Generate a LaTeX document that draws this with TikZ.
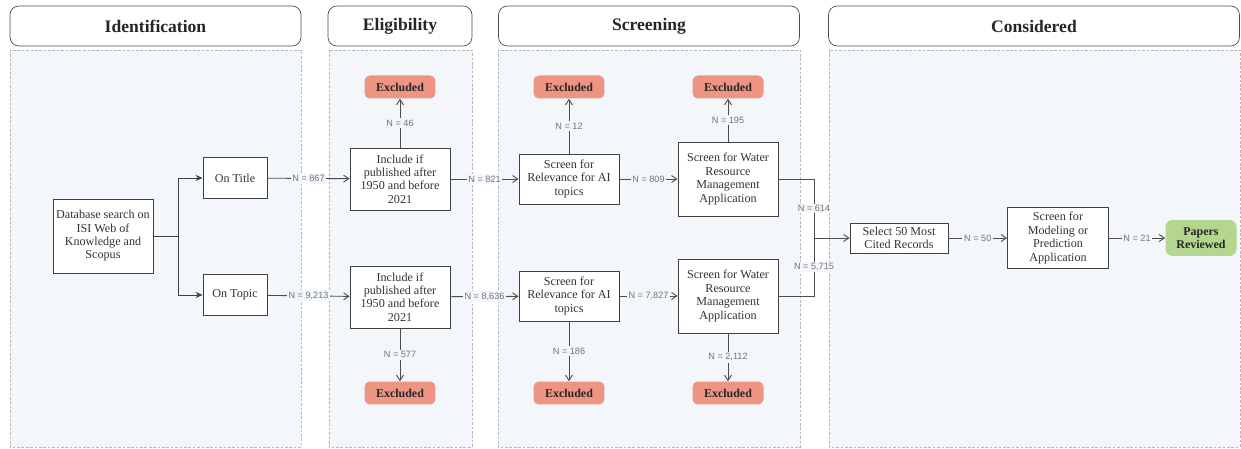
\documentclass[tikz,border=0pt]{standalone}
\usepackage{fontspec}
\setmainfont{Liberation Serif}
\newfontfamily\labelfont{Liberation Sans}
\usepackage{xcolor}
\usetikzlibrary{arrows.meta}

\definecolor{panelbg}{HTML}{F3F6FB}
\definecolor{exclfill}{HTML}{EE9483}
\definecolor{donefill}{HTML}{B4D68E}

\begin{document}
\begin{tikzpicture}[
  x=0.02cm, y=-0.02cm,
  header/.style={draw=black!70, rounded corners=5pt, fill=white, minimum height=0.8cm,
    font=\fontsize{10}{11}\selectfont\bfseries, text=black!85},
  panel/.style={draw=black!28, dash pattern=on 1.5pt off 1pt, fill=panelbg},
  box/.style={draw=black!75, line width=0.5pt, fill=white, align=center, inner sep=1pt,
    font=\fontsize{6.9}{7.6}\selectfont, text=black!80},
  excl/.style={fill=exclfill, rounded corners=3pt, minimum width=1.42cm, minimum height=0.46cm,
    font=\fontsize{6.8}{7.4}\selectfont\bfseries, text=black!85},
  done/.style={fill=donefill, rounded corners=4pt, minimum width=1.42cm, minimum height=0.72cm,
    align=center, font=\fontsize{6.8}{7.6}\selectfont\bfseries, text=black!85},
  arr/.style={draw=black!70, line width=0.5pt, -{Straight Barb[length=3pt,width=4pt]}},
  forkarr/.style={draw=black!75, line width=0.5pt, -{Stealth[length=4pt,width=3.5pt]}},
  lbl/.style={fill=panelbg, inner sep=1pt, text=black!55, font=\labelfont\fontsize{5.2}{6}\selectfont}
]
\useasboundingbox (0,0) rectangle (1241,449);

% panels and headers
\draw[panel] (10,50) rectangle (301,447);
\draw[panel] (329,50) rectangle (472,447);
\draw[panel] (498,50) rectangle (800,447);
\draw[panel] (829,50) rectangle (1240,447);
\node[header, minimum width=5.82cm] (hId) at (155.5,26) {Identification};
\node[header, minimum width=2.88cm] (hEl) at (400,26) {Eligibility};
\node[header, minimum width=6.02cm] (hSc) at (649,26) {Screening};
\node[header, minimum width=8.22cm] (hCo) at (1034,26) {Considered};

% identification
\node[box, minimum width=2cm, minimum height=1.48cm] (db) at (103,236)
  {Database search on\\ISI Web of\\Knowledge and\\Scopus};
\node[box, minimum width=1.28cm, minimum height=0.82cm] (title) at (235,178) {On Title};
\node[box, minimum width=1.28cm, minimum height=0.82cm] (topic) at (235,295) {On Topic};

% eligibility
\node[box, minimum width=2cm, minimum height=1.24cm] (incT) at (400,179)
  {Include if\\published after\\1950 and before\\2021};
\node[box, minimum width=2cm, minimum height=1.24cm] (incB) at (400,297)
  {Include if\\published after\\1950 and before\\2021};
\node[excl] (exIncT) at (400,87) {Excluded};
\node[excl] (exIncB) at (400,393) {Excluded};

% screening
\node[box, minimum width=2cm, minimum height=1cm] (aiT) at (569,179)
  {Screen for\\Relevance for AI\\topics};
\node[box, minimum width=2cm, minimum height=1cm] (aiB) at (569,296)
  {Screen for\\Relevance for AI\\topics};
\node[excl] (exAiT) at (569,87) {Excluded};
\node[excl] (exAiB) at (569,393) {Excluded};
\node[box, minimum width=2cm, minimum height=1.48cm] (wT) at (728,179)
  {Screen for Water\\Resource\\Management\\Application};
\node[box, minimum width=2cm, minimum height=1.48cm] (wB) at (728,296)
  {Screen for Water\\Resource\\Management\\Application};
\node[excl] (exWT) at (728,87) {Excluded};
\node[excl] (exWB) at (728,393) {Excluded};

% considered
\node[box, minimum width=1.96cm, minimum height=0.6cm] (sel) at (899,238)
  {Select 50 Most\\Cited Records};
\node[box, minimum width=2.02cm, minimum height=1.22cm] (model) at (1058,238)
  {Screen for\\Modeling or\\Prediction\\Application};
\node[done] (papers) at (1201,238) {Papers\\Reviewed};

% connectors
\coordinate (fork) at (178,236);
\coordinate (join) at (814,238);
\draw[draw=black!75, line width=0.5pt] (db.east) -- (fork);
\draw[forkarr] (fork) |- (title.west);
\draw[forkarr] (fork) |- (topic.west);

\draw[arr] (title) -- node[lbl] {N = 867} (incT);
\draw[arr] (topic) -- node[lbl] {N = 9,213} (incB);
\draw[arr] (incT) -- node[lbl] {N = 46} (exIncT);
\draw[arr] (incB) -- node[lbl] {N = 577} (exIncB);
\draw[arr] (incT) -- node[lbl] {N = 821} (aiT);
\draw[arr] (incB) -- node[lbl] {N = 8,636} (aiB);
\draw[arr] (aiT) -- node[lbl] {N = 12} (exAiT);
\draw[arr] (aiB) -- node[lbl] {N = 186} (exAiB);
\draw[arr] (aiT) -- node[lbl] {N = 809} (wT);
\draw[arr] (aiB) -- node[lbl] {N = 7,827} (wB);
\draw[arr] (wT) -- node[lbl] {N = 195} (exWT);
\draw[arr] (wB) -- node[lbl] {N = 2,112} (exWB);
\draw[draw=black!70, line width=0.5pt] (wT.east) -| node[lbl, pos=0.75] {N = 614} (join);
\draw[draw=black!70, line width=0.5pt] (wB.east) -| node[lbl, pos=0.75] {N = 5,715} (join);
\draw[arr] (join) -- (sel);
\draw[arr] (sel) -- node[lbl] {N = 50} (model);
\draw[arr] (model) -- node[lbl] {N = 21} (papers);
\end{tikzpicture}
\end{document}
